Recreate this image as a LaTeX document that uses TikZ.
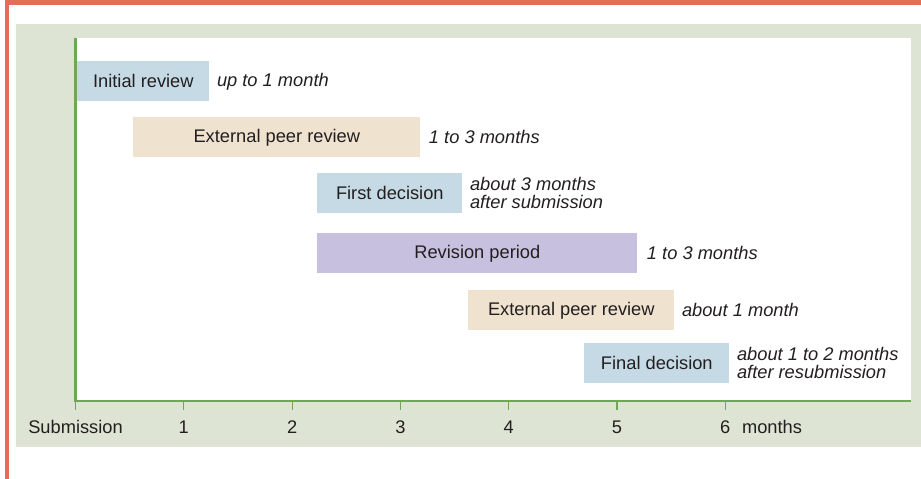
\documentclass[tikz,border=0pt]{standalone}
\usepackage{fontspec}
\setmainfont{Liberation Sans}
\usepackage{tikz}
\usetikzlibrary{positioning}
\definecolor{framered}{RGB}{228, 108, 90}
\definecolor{panelgreen}{RGB}{221, 228, 212}
\definecolor{axisgreen}{RGB}{112, 166, 84}
\definecolor{inkgray}{RGB}{35, 31, 32}
\definecolor{reviewblue}{RGB}{197, 218, 228}
\definecolor{peerbeige}{RGB}{239, 227, 208}
\definecolor{revlavender}{RGB}{199, 192, 223}
\tikzset{
    phasebar/.style={
        anchor=north west, minimum height=0.8cm, inner sep=0pt,
        text=inkgray, font=\fontsize{10.4}{12}\selectfont
    },
    note/.style={
        anchor=west, inner sep=0pt, align=left, text=inkgray,
        font=\fontsize{10.4}{10.3}\selectfont\itshape
    },
    axislabel/.style={
        text=inkgray, inner sep=0pt, font=\fontsize{10.4}{12}\selectfont
    },
    axisline/.style={axisgreen, line width=1.2pt},
    tickline/.style={axisgreen, line width=0.6pt}
}

\begin{document}
\begin{tikzpicture}[x=0.02cm, y=-0.02cm]
    \useasboundingbox (0,0) rectangle (921,479);

    % --- frame and panel ---
    \fill[framered] (5,0) rectangle (921,5);
    \fill[framered] (5,0) rectangle (9,479);
    \fill[panelgreen] (16,24) rectangle (921,447);
    \fill[white] (75.5,38) rectangle (911,401);

    % --- phases ---
    \node[phasebar, fill=reviewblue, minimum width=2.64cm] (init) at (77,61) {Initial review};
    \node[phasebar, fill=peerbeige, minimum width=5.74cm] (peer1) at (133,117) {External peer review};
    \node[phasebar, fill=reviewblue, minimum width=2.9cm] (first) at (317,173) {First decision};
    \node[phasebar, fill=revlavender, minimum width=6.4cm, minimum height=0.8cm] (revise) at (317,233) {Revision period};
    \node[phasebar, fill=peerbeige, minimum width=4.12cm] (peer2) at (468,290) {External peer review};
    \node[phasebar, fill=reviewblue, minimum width=2.9cm] (final) at (584,343) {Final decision};

    % durations
    \node[note, right=0.14cm of init] (initnote) {up to 1 month};
    \node[note, right=0.16cm of peer1] (peer1note) {1 to 3 months};
    \node[note, right=0.14cm of first] (firstnote) {about 3 months\\after submission};
    \node[note, right=0.18cm of revise] (revisenote) {1 to 3 months};
    \node[note, right=0.14cm of peer2] (peer2note) {about 1 month};
    \node[note, right=0.14cm of final] (finalnote) {about 1 to 2 months\\after resubmission};

    % --- time axis ---
    \draw[axisline] (75.5,38) -- (75.5,401) -- (911,401);
    \foreach \m/\txt in {0/Submission, 1/1, 2/2, 3/3, 4/4, 5/5, 6/6} {
        \draw[tickline] ({75.5+108.3*\m},401) -- ({75.5+108.3*\m},410);
        \node[axislabel] (lab\m) at ({75.5+108.3*\m},427) {\txt};
    }
    \node[axislabel, right=0.22cm of lab6] (unit) {months};
\end{tikzpicture}
\end{document}
